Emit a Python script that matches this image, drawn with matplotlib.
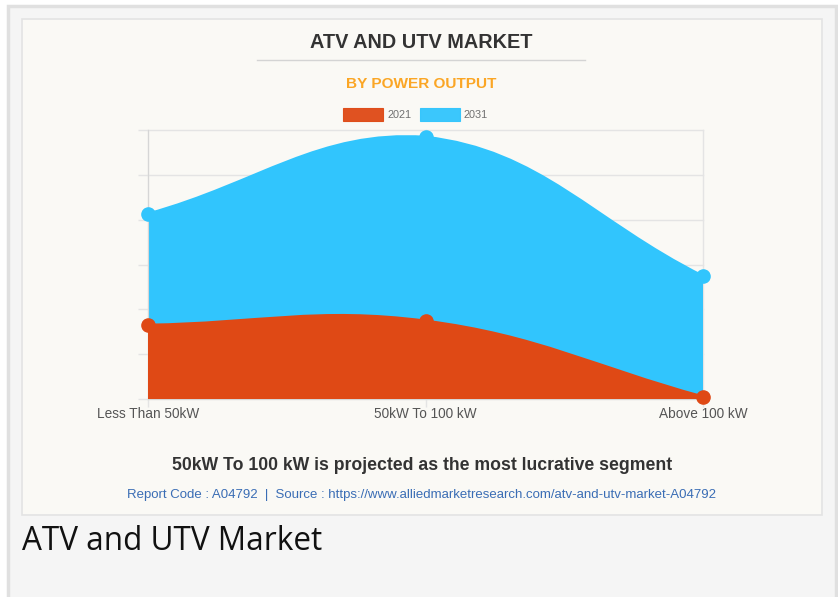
import numpy as np
import matplotlib
matplotlib.use("Agg")
import matplotlib.pyplot as plt
from matplotlib.path import Path
from matplotlib.patches import PathPatch, Rectangle

# ------------------------------
# data (y axis has no labels)
# ------------------------------
categories = ["Less Than 50kW", "50kW To 100 kW", "Above 100 kW"]
years = ["2021", "2031"]
values_2021 = [1.65, 1.74, 0.05]
values_2031 = [4.13, 5.84, 2.74]
colors = {"2021": "#df4915", "2031": "#31c5fd"}

W, H = 838, 597
fig = plt.figure(figsize=(W / 100, H / 100), dpi=100)
fig.patch.set_facecolor("white")


def fx(px):
    return px / W


def fy(py):
    return 1 - py / H


# page frame + card
fig.patches.append(Rectangle((fx(8), fy(640)), fx(828) - fx(0), fy(6) - fy(640),
                             transform=fig.transFigure, facecolor="#f5f5f5",
                             edgecolor="#e0e0e0", linewidth=2.5, zorder=-2))
fig.patches.append(Rectangle((fx(22), fy(515)), fx(800), fy(19) - fy(515),
                             transform=fig.transFigure, facecolor="#faf9f5",
                             edgecolor="#e3e3e3", linewidth=1.2, zorder=-1))

# plot area
left, right, top, bottom = 148, 703, 130, 399
ax = fig.add_axes([fx(left), fy(bottom), fx(right) - fx(left), fy(top) - fy(bottom)])
ax.set_zorder(2)
ax.set_facecolor("none")
ax.set_xlim(0, len(categories) - 1)
ax.set_ylim(0, 6)
x = np.arange(len(categories))

grid_c = "#e4e4e4"
for s in ["top", "right"]:
    ax.spines[s].set_visible(False)
ax.spines["left"].set_color("#d6d6d6")
ax.spines["bottom"].set_color("#d6d6d6")
ax.set_yticks(range(0, 7))
ax.set_yticklabels([])
ax.set_xticks(x)
ax.set_xticklabels(categories, fontsize=9.8, color="#555555", family="Liberation Sans")
ax.tick_params(axis="both", length=7, color=grid_c, width=1)
ax.tick_params(axis="x", length=5.5, pad=0)
ax.grid(True, color=grid_c, linewidth=1, zorder=0)
for gl in ax.get_xgridlines() + ax.get_ygridlines():
    gl.set_clip_on(False)
ax.set_axisbelow(True)

fig.canvas.draw()
to_px = ax.transData
to_data = ax.transData.inverted()
bb = ax.bbox


def spline_path(vals, t=0.4):
    # chart.js style bezier (tension 0.4), control points capped to the chart area
    pts = to_px.transform(np.column_stack([x, vals]))
    n = len(pts)
    ctrl_prev, ctrl_next = [], []
    for i in range(n):
        prev = pts[i - 1] if i > 0 else pts[i]
        nxt = pts[i + 1] if i < n - 1 else pts[i]
        d01 = np.hypot(*(pts[i] - prev))
        d12 = np.hypot(*(nxt - pts[i]))
        s01 = d01 / (d01 + d12)
        s12 = d12 / (d01 + d12)
        cp = pts[i] - t * s01 * (nxt - prev)
        cn = pts[i] + t * s12 * (nxt - prev)
        for c in (cp, cn):
            c[0] = min(max(c[0], bb.x0), bb.x1)
            c[1] = min(max(c[1], bb.y0), bb.y1)
        ctrl_prev.append(cp)
        ctrl_next.append(cn)
    verts = [pts[0]]
    codes = [Path.MOVETO]
    for i in range(1, n):
        verts += [ctrl_next[i - 1], ctrl_prev[i], pts[i]]
        codes += [Path.CURVE4] * 3
    verts = to_data.transform(np.array(verts))
    return verts, codes


for z, (year, vals) in enumerate([("2031", values_2031), ("2021", values_2021)]):
    verts, codes = spline_path(vals)
    line_path = Path(verts, codes)
    fill_verts = np.vstack([verts, [[x[-1], 0], [x[0], 0], verts[0]]])
    fill_codes = codes + [Path.LINETO, Path.LINETO, Path.CLOSEPOLY]
    ax.add_patch(PathPatch(Path(fill_verts, fill_codes), facecolor=colors[year],
                           edgecolor="none", zorder=2 + z))
    ax.add_patch(PathPatch(line_path, facecolor="none", edgecolor=colors[year],
                           linewidth=2, zorder=2 + z, clip_on=False))
for year, vals in [("2031", values_2031), ("2021", values_2021)]:
    ax.plot(x, vals, "o", color=colors[year], markersize=9.5, zorder=5, clip_on=False)

# titles
fig.text(fx(421), fy(43), "ATV AND UTV MARKET", ha="center", va="center",
         fontsize=14.3, fontweight="bold", color="#333333", family="Liberation Sans")
fig.lines.append(plt.Line2D([fx(257), fx(585)], [fy(60), fy(60)], transform=fig.transFigure,
                            color="#d4d4d4", linewidth=1))
fig.text(fx(421), fy(84), "BY POWER OUTPUT", ha="center", va="center",
         fontsize=11.1, fontweight="bold", color="#fba625", family="Liberation Sans")

# legend
for x0, year in [(343, "2021"), (420, "2031")]:
    fig.patches.append(Rectangle((fx(x0), fy(121)), fx(40), fy(108) - fy(121),
                                 transform=fig.transFigure, facecolor=colors[year],
                                 edgecolor=colors[year], linewidth=0.8, alpha=0.95))
    fig.text(fx(x0 + 44), fy(114.5), year, ha="left", va="center", fontsize=7.8,
             color="#707070", family="Liberation Sans")

# footer texts
fig.text(fx(422), fy(465), "50kW To 100 kW is projected as the most lucrative segment",
         ha="center", va="center", fontsize=12.7, fontweight="bold", color="#333333",
         family="Liberation Sans")
fig.text(fx(421), fy(495),
         "Report Code : A04792  |  Source : https://www.alliedmarketresearch.com/atv-and-utv-market-A04792",
         ha="center", va="center", fontsize=9.5, color="#3a6db5", family="Liberation Sans")
fig.text(fx(22), fy(542), "ATV and UTV Market", ha="left", va="center",
         fontsize=22.7, color="#111111", family="Open Sans")

fig.savefig("out.png", dpi=100)
